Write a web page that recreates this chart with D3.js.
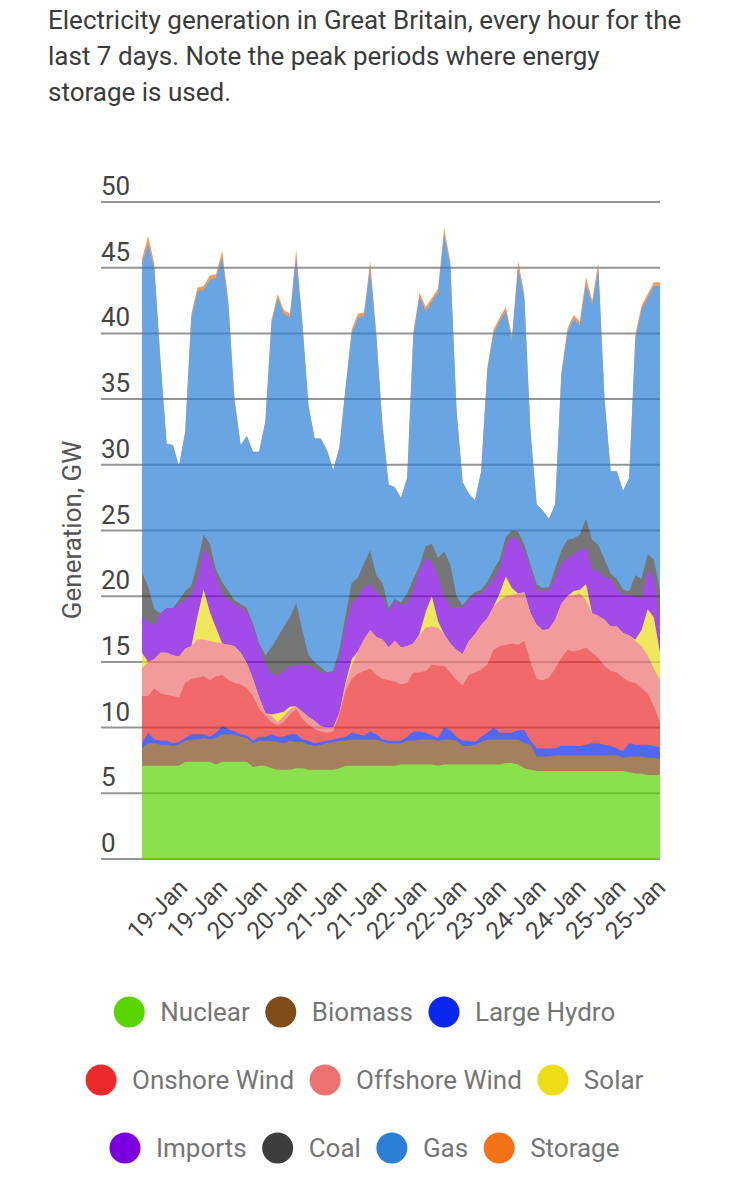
<!DOCTYPE html>
<html>
<head>
<meta charset="utf-8">
<script src="https://cdn.jsdelivr.net/npm/d3@7"></script>
<style>
  body { margin: 0; background: #fff; }
  svg text { font-family: Roboto, "Noto Sans", sans-serif; }
</style>
</head>
<body>
<svg id="chart" width="729" height="1200"></svg>
<script>
// ---------------- data (GW, one reading every 2 hours over 7 days) ----------------
const hours = d3.range(0, 169, 2);

const nuclear = [7.1,7.1,7.1,7.1,7.1,7.1,7.1,7.4,7.4,7.4, 7.4,7.4,7.2,7.4,7.4,7.4,7.4,7.4,7.0,7.1,
  7.1,6.9,6.8,6.8,6.8,6.9,6.9,6.8,6.8,6.8, 6.8,6.8,6.9,7.1,7.1,7.1,7.1,7.1,7.1,7.1,
  7.1,7.1,7.2,7.2,7.2,7.2,7.2,7.2,7.1,7.2, 7.2,7.2,7.2,7.2,7.2,7.2,7.2,7.2,7.2,7.3,
  7.3,7.2,6.9,6.8,6.7,6.7,6.7,6.7,6.7,6.7, 6.7,6.7,6.7,6.7,6.7,6.7,6.7,6.7,6.7,6.6,
  6.5,6.5,6.4,6.4,6.4];
const biomass = [1.3,1.7,1.7,1.6,1.6,1.5,1.6,1.6,1.7,1.7, 1.8,1.7,2.0,2.1,2.1,2.1,1.9,1.8,1.8,1.9,
  1.9,2.1,2.1,2.0,2.2,2.0,2.0,1.9,1.8,1.9, 2.0,2.1,2.1,1.9,2.0,2.0,2.0,2.0,2.0,1.8,
  1.7,1.7,1.6,1.8,1.8,1.9,1.9,1.9,1.9,1.9, 1.9,1.8,1.4,1.4,1.5,1.7,1.9,1.9,1.9,1.8,
  1.8,1.9,1.9,1.9,1.1,1.1,1.1,1.2,1.2,1.2, 1.2,1.2,1.2,1.2,1.2,1.2,1.2,1.2,1.0,1.2,
  1.3,1.3,1.3,1.3,1.2];
const largeHydro = [0.4,0.8,0.3,0.3,0.3,0.2,0.2,0.2,0.4,0.4, 0.3,0.2,0.4,0.6,0.4,0.2,0.2,0.2,0.2,0.3,
  0.3,0.5,0.4,0.5,0.5,0.6,0.2,0.3,0.2,0.2, 0.2,0.2,0.2,0.3,0.5,0.4,0.3,0.6,0.4,0.2,
  0.2,0.2,0.2,0.3,0.7,0.6,0.5,0.3,0.2,0.9, 0.7,0.3,0.4,0.4,0.2,0.4,0.5,0.9,0.5,0.5,
  0.5,0.7,1.0,0.3,0.6,0.6,0.6,0.5,0.7,0.7, 0.7,0.7,0.8,0.9,0.9,0.8,0.7,0.5,0.5,1.0,
  0.9,0.9,1.0,0.9,0.9];
const onshoreWind = [3.6,2.8,3.9,3.6,3.5,3.6,3.4,4.2,4.2,4.3, 4.4,4.3,4.3,3.9,3.7,3.7,3.8,3.6,3.4,2.1,
  1.6,0.9,0.9,1.1,1.5,1.9,1.6,1.2,1.1,0.8, 0.6,0.6,1.8,3.5,4.1,4.6,4.9,4.8,4.5,4.6,
  4.6,4.5,4.3,4.1,4.5,4.5,4.7,5.4,5.5,4.7, 4.4,4.3,4.2,5.0,5.3,5.1,5.2,5.9,6.6,6.7,
  6.8,6.5,6.8,6.0,5.3,5.2,5.4,6.1,6.7,7.3, 7.2,7.3,7.4,6.9,6.5,6.0,5.7,5.8,5.6,4.7,
  4.7,4.3,3.9,3.0,1.9];
const offshoreWind = [2.1,2.6,2.2,3.1,3.2,3.1,3.1,2.6,2.5,2.9, 2.8,3.0,2.6,2.4,2.7,2.8,2.4,1.9,1.3,0.9,
  0.2,0.5,0.2,0.5,0.4,0.2,0.5,0.6,0.6,0.4, 0.4,0.3,0.1,0.4,1.0,1.7,2.4,2.9,2.9,3.0,
  2.5,3.1,2.8,2.8,2.2,2.8,3.3,2.9,2.9,2.4, 2.2,2.3,2.4,2.6,2.9,3.4,3.5,3.3,3.5,3.7,
  3.7,3.9,3.7,3.7,4.1,3.8,3.7,3.7,4.1,4.1, 4.3,4.3,3.6,3.0,3.2,3.5,3.4,3.5,3.4,3.5,
  3.2,3.2,2.9,2.9,3.2];
const solar = [1.2,0,0,0,0,0,0,0,0,1.8, 3.8,2.2,1.1,0,0,0,0,0,0,0,
  0,0.1,0.7,0.3,0.2,0,0,0,0,0, 0,0,0,0.2,0.5,0,0,0,0,0,
  0,0,0,0,0,0.1,1.2,2.3,0.5,0, 0,0,0,0,0,0,0,0,0.5,1.5,
  0.5,0,0,0,0,0,0,0,0,0, 0.3,0.3,1.2,0,0,0,0,0,0,0,
  0.1,1.2,3.5,3.9,2.1];
const imports = [2.8,3.0,2.6,3.0,3.4,3.6,4.0,3.7,4.0,2.8, 3.1,4.2,3.9,3.8,3.4,3.2,3.4,3.9,4.0,4.0,
  3.7,3.1,2.9,3.1,3.1,3.1,3.6,3.9,4.0,4.1, 4.2,4.2,4.2,4.4,4.3,4.1,4.0,3.5,3.4,3.2,
  2.7,3.1,3.2,3.3,4.1,4.9,4.1,2.6,3.4,2.9, 2.8,3.2,3.6,3.1,3.0,2.4,2.4,2.1,1.9,2.4,
  3.9,4.1,3.1,3.4,2.7,3.0,3.0,3.2,3.1,2.9, 2.8,3.0,2.8,3.3,3.4,3.3,3.6,2.8,2.9,3.1,
  3.3,2.4,3.0,3.0,2.5];
const coal = [3.3,2.7,1.2,0,0,0,0.3,0.7,0.6,1.3, 1.1,1.0,0.5,0.9,0.7,0.3,0.3,0.3,0.2,0.1,
  0.7,2.0,2.9,3.4,3.7,4.8,2.6,0.8,0.5,0.4, 0,0.1,0.6,0.7,1.5,1.5,1.8,2.6,1.3,1.1,
  0.3,0.1,0.2,0.7,0.8,0.3,0.9,1.4,1.4,3.4, 3.2,0.9,0.1,0.2,0.2,0.3,0.4,0.7,0.7,0.6,
  0.5,0.6,0.5,0.3,0.4,0.2,0.2,0.7,1.0,1.4, 1.2,1.2,2.2,2.3,2.0,1.3,0.4,0.8,0.4,0.3,
  1.6,1.5,1.2,1.4,2.3];
const gas = [23.5,26.1,25.9,19.1,12.5,12.4,10.2,12.1,20.4,20.6, 18.6,20.1,22.2,24.7,21.8,15.2,12.1,13.1,13.1,14.6,
  17.8,24.7,25.8,23.8,22.8,26.3,23.3,19.0,17.0,17.4, 16.9,15.3,15.4,17.3,19.0,19.8,18.8,21.4,18.1,12.0,
  9.4,8.5,8.0,8.8,18.5,20.5,17.9,18.4,20.2,24.1, 22.7,14.2,9.4,7.9,7.0,9.0,16.1,18.0,18.1,17.2,
  14.5,20.1,18.7,10.1,6.1,5.9,5.2,4.9,13.3,15.8, 16.7,15.9,17.9,17.9,21.0,12.2,7.8,8.2,7.5,8.6,
  18.0,20.5,19.5,20.8,23.1];
const storage = [0.4,0.6,0.4,0.2,0,0,0,0,0.3,0.3, 0.3,0.3,0.3,0.5,0.3,0.1,0,0,0,0,
  0,0.2,0.3,0.3,0.3,0.6,0.3,0,0,0, 0,0,0,0,0.3,0.3,0.3,0.6,0.3,0,
  0,0,0,0,0.3,0.3,0.3,0.3,0.3,0.5, 0.4,0,0,0,0,0,0.2,0.3,0.3,0.3,
  0.3,0.5,0.4,0,0,0,0,0,0.2,0.3, 0.3,0.3,0.5,0.3,0.5,0,0,0,0,0,
  0.3,0.3,0.3,0.3,0.3];

const seriesKeys   = ["nuclear","biomass","hydro","onshore","offshore","solar","imports","coal","gas","storage"];
const seriesNames  = ["Nuclear","Biomass","Large Hydro","Onshore Wind","Offshore Wind","Solar","Imports","Coal","Gas","Storage"];
const seriesValues = [nuclear, biomass, largeHydro, onshoreWind, offshoreWind, solar, imports, coal, gas, storage];
const seriesColors = ["#59d302","#7f4b19","#0a27ee","#ec2a2a","#ec7272","#ecdd18","#7c00df","#3d3d3d","#2b7fd6","#f47216"];

const yTicks  = [0,5,10,15,20,25,30,35,40,45,50];
const xLabels = ["19-Jan","19-Jan","20-Jan","20-Jan","21-Jan","21-Jan","22-Jan","22-Jan","23-Jan","24-Jan","24-Jan","25-Jan","25-Jan"];
const legendRows = [["Nuclear","Biomass","Large Hydro"],["Onshore Wind","Offshore Wind","Solar"],["Imports","Coal","Gas","Storage"]];
const titleLines = ["Electricity generation in Great Britain, every hour for the","last 7 days. Note the peak periods where energy","storage is used."];

// ---------------- drawing ----------------
const svg = d3.select("#chart");
const W = 729;

const x = d3.scaleLinear().domain([0, 168]).range([142, 660]);
const y = d3.scaleLinear().domain([0, 50]).range([859, 202]);

// title
svg.append("g").selectAll("text").data(titleLines).join("text")
  .attr("x", 48).attr("y", (d, i) => 29 + i * 36)
  .attr("font-size", 26).attr("fill", "#3b3b3b").text(d => d);

// gridlines + y tick labels
const grid = svg.append("g");
grid.selectAll("line").data(yTicks).join("line")
  .attr("x1", 101).attr("x2", 660)
  .attr("y1", d => y(d)).attr("y2", d => y(d))
  .attr("stroke", "#959595").attr("stroke-width", 2);
grid.selectAll("text").data(yTicks).join("text")
  .attr("x", 101).attr("y", d => y(d) - 7)
  .attr("font-size", 26).attr("fill", "#444").text(d => d);

// stacked areas
const table = hours.map((h, i) => {
  const row = { hour: h };
  seriesKeys.forEach((k, j) => row[k] = seriesValues[j][i]);
  return row;
});
const stacked = d3.stack().keys(seriesKeys)(table);
const areaTop = d3.area()
  .x(d => x(d.data.hour))
  .y0(y(0))
  .y1(d => y(d[1]));

const areas = svg.append("g").attr("opacity", 0.7);
// draw from the top series down, each filled from zero, to avoid seams
stacked.slice().reverse().forEach(s => {
  areas.append("path")
    .datum(s)
    .attr("d", areaTop)
    .attr("fill", seriesColors[seriesKeys.indexOf(s.key)]);
});

// y axis title
svg.append("text")
  .attr("transform", "translate(81,530) rotate(-90)")
  .attr("text-anchor", "middle")
  .attr("font-size", 26).attr("fill", "#555")
  .text("Generation, GW");

// x labels (slanted)
const xl = d3.scalePoint().domain(d3.range(xLabels.length)).range([189, 667]);
svg.append("g").selectAll("text").data(xLabels).join("text")
  .attr("transform", (d, i) => `translate(${xl(i)},889) rotate(-45)`)
  .attr("text-anchor", "end")
  .attr("font-size", 24).attr("fill", "#444")
  .text(d => d);

// legend
const legend = svg.append("g");
const rowY = [1012, 1080, 1148];
const r = 15.5, gapIn = 31, gapOut = 31;
legendRows.forEach((row, ri) => {
  const g = legend.append("g");
  const texts = row.map(name => g.append("text")
    .attr("font-size", 26).attr("fill", "#757575").text(name));
  const widths = texts.map(t => t.node().getComputedTextLength());
  const total = r + d3.sum(widths) + row.length * gapIn + (row.length - 1) * gapOut;
  let cx = W / 2 - total / 2 + r;
  row.forEach((name, j) => {
    const color = seriesColors[seriesNames.indexOf(name)];
    g.append("circle").attr("cx", cx).attr("cy", rowY[ri]).attr("r", r).attr("fill", color);
    texts[j].attr("x", cx + gapIn).attr("y", rowY[ri] + 9);
    cx += gapIn + widths[j] + gapOut;
  });
});
</script>
</body>
</html>
